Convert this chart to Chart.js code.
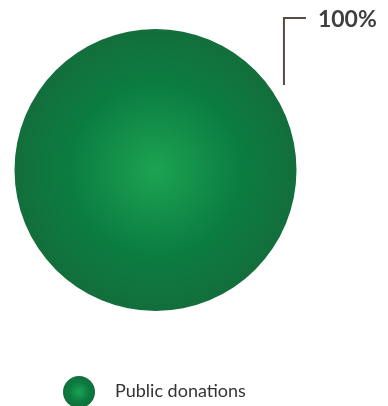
<!DOCTYPE html>
<html>
<head>
<meta charset="utf-8">
<script src="https://cdn.jsdelivr.net/npm/chart.js@4/dist/chart.umd.min.js"></script>
<style>
  html, body { margin: 0; padding: 0; background: #ffffff; }
  canvas { display: block; }
</style>
</head>
<body>
<canvas id="c" width="388" height="406"></canvas>
<script>
const categories = ["Public donations"];
const values = [100];
const valueLabels = ["100%"];

const gradStops = [[0, '#1ca352'], [0.6, '#0b7d41'], [1, '#136e3b']];

function radialFill(ctx, x, y, r) {
  const g = ctx.createRadialGradient(x, y, 0, x, y, r);
  gradStops.forEach(s => g.addColorStop(s[0], s[1]));
  return g;
}

const overlay = {
  id: 'overlay',
  afterDatasetsDraw(chart) {
    const ctx = chart.ctx;
    const arc = chart.getDatasetMeta(0).data[0];
    const cx = arc.x, cy = arc.y, r = arc.outerRadius;
    // leader line
    const lx = cx + 0.911 * r;
    ctx.save();
    ctx.strokeStyle = '#574b47';
    ctx.lineWidth = 2;
    ctx.beginPath();
    ctx.moveTo(lx, cy - 0.603 * r);
    ctx.lineTo(lx, cy - 1.078 * r);
    ctx.lineTo(cx + 1.067 * r, cy - 1.078 * r);
    ctx.stroke();
    ctx.fillStyle = '#3f3f3f';
    ctx.font = 'bold 23px Lato';
    ctx.textBaseline = 'middle';
    ctx.textAlign = 'left';
    ctx.fillText(valueLabels[0], cx + 1.152 * r, cy - 1.07 * r);
    ctx.restore();

    // legend
    const ly = chart.chartArea.bottom + 81;
    const mx = cx - 76.5;
    ctx.save();
    ctx.fillStyle = radialFill(ctx, mx, ly, 16);
    ctx.beginPath();
    ctx.arc(mx, ly, 16, 0, Math.PI * 2);
    ctx.fill();
    ctx.fillStyle = '#333333';
    ctx.font = '18px Lato';
    ctx.textBaseline = 'middle';
    ctx.fillText(categories[0], mx + 36, ly - 1);
    ctx.restore();
  }
};

new Chart(document.getElementById('c'), {
  type: 'pie',
  data: {
    labels: categories,
    datasets: [{
      data: values,
      borderWidth: 0,
      backgroundColor(context) {
        const chart = context.chart;
        const a = chart.chartArea;
        if (!a) return gradStops[1][1];
        const cx = (a.left + a.right) / 2, cy = (a.top + a.bottom) / 2;
        const r = Math.min(a.right - a.left, a.bottom - a.top) / 2;
        return radialFill(chart.ctx, cx, cy, r);
      }
    }]
  },
  options: {
    responsive: false,
    animation: false,
    layout: { padding: { left: 14, right: 91, top: 29, bottom: 95 } },
    plugins: {
      legend: { display: false },
      tooltip: { enabled: false }
    }
  },
  plugins: [overlay]
});
</script>
</body>
</html>
